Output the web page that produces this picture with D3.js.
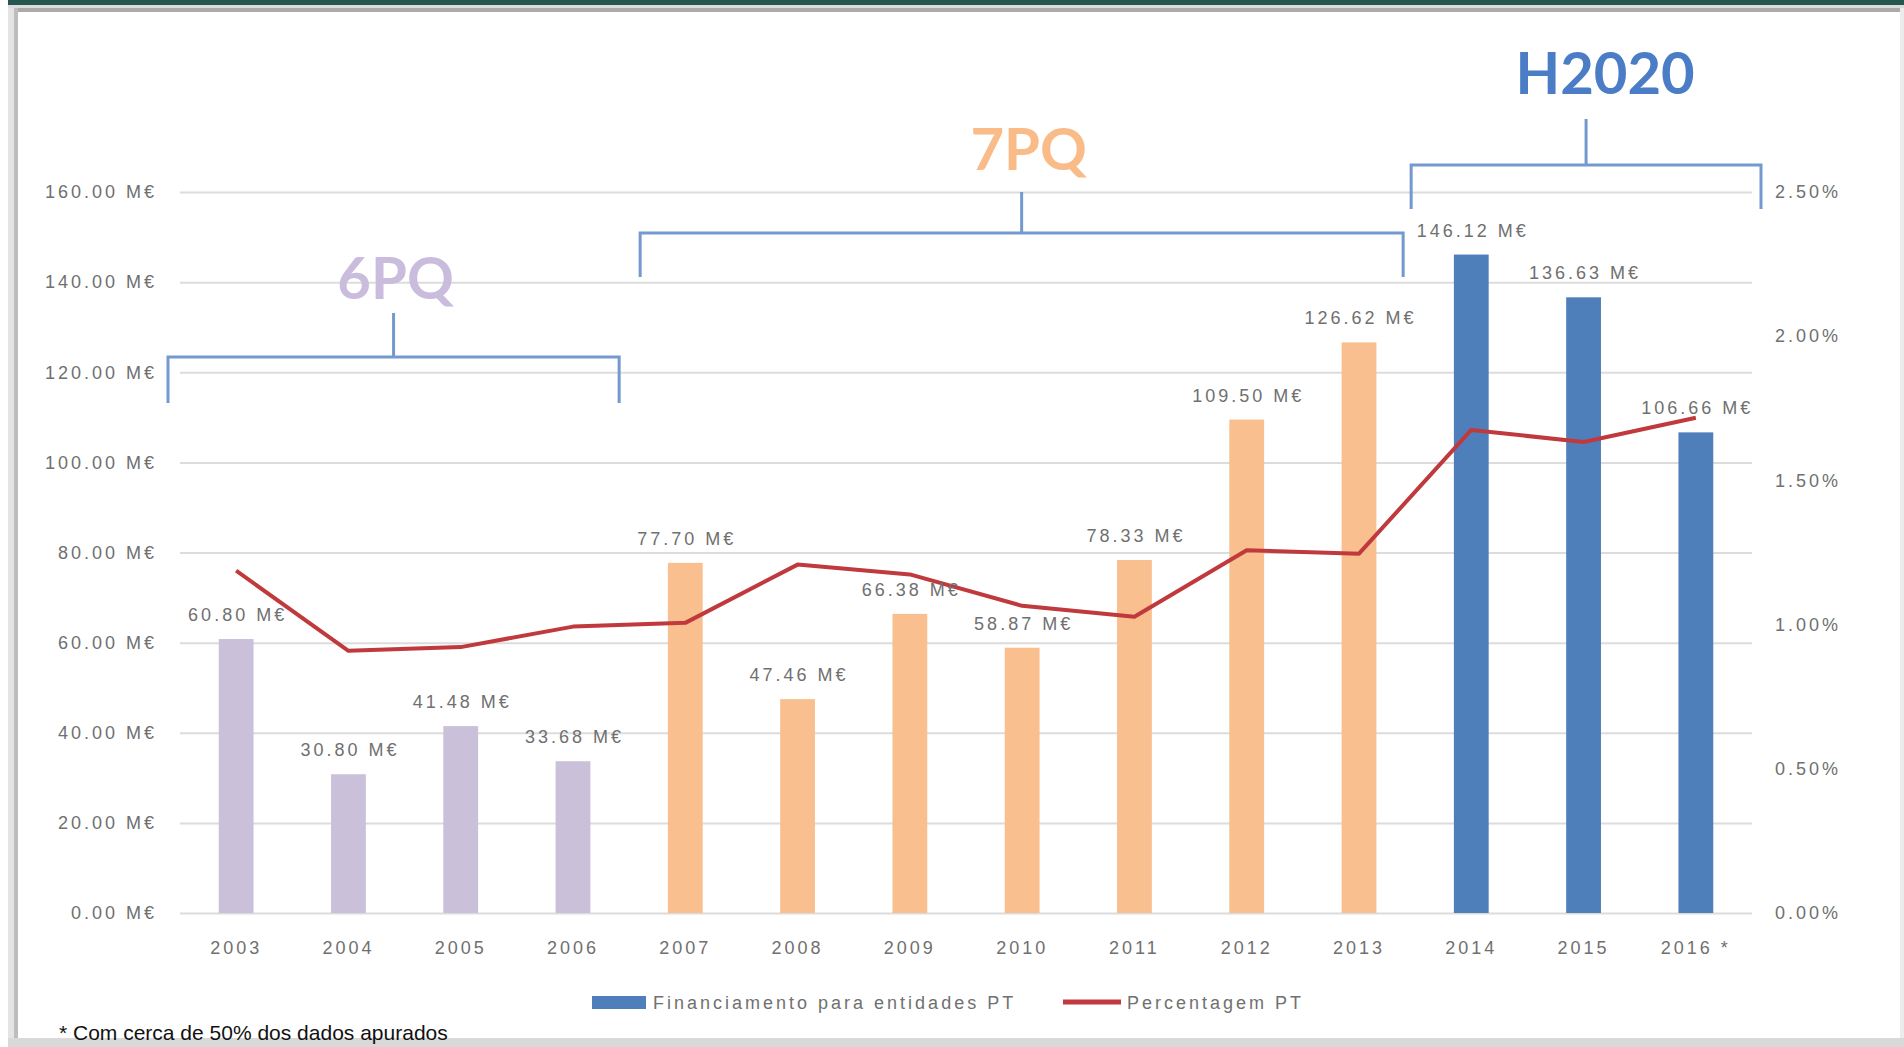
<!DOCTYPE html>
<html>
<head>
<meta charset="utf-8">
<script src="https://cdn.jsdelivr.net/npm/d3@7"></script>
<style>
  html, body { margin: 0; padding: 0; background: #fff; }
  svg { display: block; }
  text { font-family: "Liberation Sans", Arial, sans-serif; }
  .axis text, .bar-label, .legend text { fill: #707070; font-size: 18px; letter-spacing: 3px; }
  .axis .domain { display: none; }
  .grid line { stroke: #dcdcdc; stroke-width: 2px; }
  .period-title { font-family: Lato, "Open Sans", sans-serif; font-weight: 700; font-size: 58px; }
</style>
</head>
<body>
<svg id="chart" width="1904" height="1047"></svg>
<script>
// ---- data ----
const years = ['2003', '2004', '2005', '2006', '2007', '2008', '2009', '2010', '2011', '2012', '2013', '2014', '2015', '2016'];
const yearLabels = ['2003', '2004', '2005', '2006', '2007', '2008', '2009', '2010', '2011', '2012', '2013', '2014', '2015', '2016 *'];
const funding = [60.80, 30.80, 41.48, 33.68, 77.70, 47.46, 66.38, 58.87, 78.33, 109.50, 126.62, 146.12, 136.63, 106.66]; // M€
const sharePT = [0.01187, 0.00909, 0.00922, 0.00993, 0.01006, 0.01208, 0.01174, 0.01065, 0.01027, 0.01258, 0.01246, 0.01675, 0.01633, 0.01717];
const periodNames = ['6PQ', '7PQ', 'H2020'];
const periodFirst = ['2003', '2007', '2014'];
const periodLast = ['2006', '2013', '2016'];
const leftTicks = [0, 20, 40, 60, 80, 100, 120, 140, 160];
const rightTicks = [0, 0.005, 0.01, 0.015, 0.02, 0.025];
const legendLabels = ['Financiamento para entidades PT', 'Percentagem PT'];
const footnote = '* Com cerca de 50% dos dados apurados';

// ---- cores ----
const barColor = { '6PQ': '#cbc0da', '7PQ': '#f9bf8e', 'H2020': '#4f7fbb' };
const titleColor = { '6PQ': '#cabcdc', '7PQ': '#f9bb88', 'H2020': '#4a7dc6' };
const lineColor = '#c0393d';
const bracketColor = '#7499cf';

// ---- layout ----
const plot = { left: 180, right: 1752, top: 192, bottom: 913 };
// posição das chavetas (px)
const bracketLayout = {
  '6PQ':   { titleY: 299, stemTop: 313, barY: 357, legY: 403, dl: -12, dr: -10, dx: 2 },
  '7PQ':   { titleY: 170, stemTop: 192, barY: 233, legY: 277, dl: 11,  dr: -12, dx: 7 },
  'H2020': { titleY: 94,  stemTop: 119, barY: 165, legY: 209, dl: -4,  dr: 9,   dx: 19 }
};

const svg = d3.select('#chart');

// moldura (captura de ecrã)
svg.append('rect').attr('x', 8).attr('y', 0).attr('width', 1896).attr('height', 5).attr('fill', '#25574f');
svg.append('rect').attr('x', 8).attr('y', 5).attr('width', 1896).attr('height', 3).attr('fill', '#dcdcdc');
svg.append('rect').attr('x', 18).attr('y', 8).attr('width', 1882).attr('height', 4).attr('fill', '#ababab');
svg.append('rect').attr('x', 8).attr('y', 8).attr('width', 6).attr('height', 1032).attr('fill', '#e4e4e4');
svg.append('rect').attr('x', 14).attr('y', 8).attr('width', 4).attr('height', 1032).attr('fill', '#bdbdbd');
svg.append('rect').attr('x', 1900).attr('y', 8).attr('width', 4).attr('height', 1039).attr('fill', '#ececec');
svg.append('rect').attr('x', 8).attr('y', 1038).attr('width', 1896).attr('height', 9).attr('fill', '#d9d9d9');

// ---- escalas ----
const x = d3.scaleBand().domain(years).range([plot.left, plot.right]).paddingInner(0.69).paddingOuter(0.345);
const y = d3.scaleLinear().domain([0, 160]).range([plot.bottom, plot.top]);
const yPct = d3.scaleLinear().domain([0, 0.025]).range([plot.bottom, plot.top]);
const step = x.step();
const cx = yr => x(yr) + x.bandwidth() / 2;
const periodOf = yr => periodNames[periodFirst.findIndex((f, i) => yr >= f && yr <= periodLast[i])];

// grelha + eixo esquerdo
svg.append('g')
  .attr('class', 'axis grid')
  .attr('transform', `translate(${plot.left},0)`)
  .call(d3.axisLeft(y).tickValues(leftTicks).tickSize(-(plot.right - plot.left)).tickPadding(23)
    .tickFormat(d => d3.format('.2f')(d) + ' M€'));

// eixo direito
svg.append('g')
  .attr('class', 'axis')
  .attr('transform', `translate(${plot.right},0)`)
  .call(d3.axisRight(yPct).tickValues(rightTicks).tickSize(0).tickPadding(23).tickFormat(d3.format('.2%')));

// eixo x
svg.append('g')
  .attr('class', 'axis')
  .attr('transform', `translate(0,${plot.bottom})`)
  .call(d3.axisBottom(x).tickSize(0).tickPadding(28).tickFormat((d, i) => yearLabels[i]));

// barras
svg.append('g').selectAll('rect')
  .data(years)
  .join('rect')
  .attr('x', d => x(d))
  .attr('width', x.bandwidth())
  .attr('y', (d, i) => y(funding[i]))
  .attr('height', (d, i) => y(0) - y(funding[i]))
  .attr('fill', d => barColor[periodOf(d)]);

// linha percentagem
const line = d3.line().x((d, i) => cx(years[i])).y(d => yPct(d));
svg.append('path')
  .datum(sharePT)
  .attr('d', line)
  .attr('fill', 'none')
  .attr('stroke', lineColor)
  .attr('stroke-width', 4)
  .attr('stroke-linejoin', 'round');

// rótulos das barras
svg.append('g').selectAll('text')
  .data(years)
  .join('text')
  .attr('class', 'bar-label')
  .attr('x', d => cx(d) + 1.5)
  .attr('y', (d, i) => y(funding[i]) - 18)
  .attr('text-anchor', 'middle')
  .text((d, i) => d3.format('.2f')(funding[i]) + ' M€');

// chavetas dos programas-quadro
periodNames.forEach((name, i) => {
  const L = bracketLayout[name];
  const x0 = x(periodFirst[i]) - step * x.paddingInner() / 2 + L.dl;
  const x1 = x(periodLast[i]) + x.bandwidth() + step * x.paddingInner() / 2 + L.dr;
  const mid = (x0 + x1) / 2;
  const g = svg.append('g');
  g.append('path')
    .attr('d', `M${x0},${L.legY}V${L.barY}H${x1}V${L.legY}M${mid},${L.barY}V${L.stemTop}`)
    .attr('fill', 'none')
    .attr('stroke', bracketColor)
    .attr('stroke-width', 3);
  g.append('text')
    .attr('class', 'period-title')
    .attr('x', mid + L.dx)
    .attr('y', L.titleY)
    .attr('text-anchor', 'middle')
    .attr('fill', titleColor[name])
    .text(name);
});

// legenda
const legend = svg.append('g').attr('class', 'legend');
legend.append('rect').attr('x', 592).attr('y', 996).attr('width', 54).attr('height', 13).attr('fill', barColor['H2020']);
legend.append('text').attr('x', 653).attr('y', 1009).text(legendLabels[0]);
legend.append('line').attr('x1', 1063).attr('x2', 1121).attr('y1', 1002).attr('y2', 1002)
  .attr('stroke', lineColor).attr('stroke-width', 5);
legend.append('text').attr('x', 1127).attr('y', 1009).text(legendLabels[1]);

// nota de rodapé
svg.append('text')
  .attr('x', 59)
  .attr('y', 1040)
  .attr('fill', '#111')
  .style('font-size', '21px')
  .text(footnote);
</script>
</body>
</html>
